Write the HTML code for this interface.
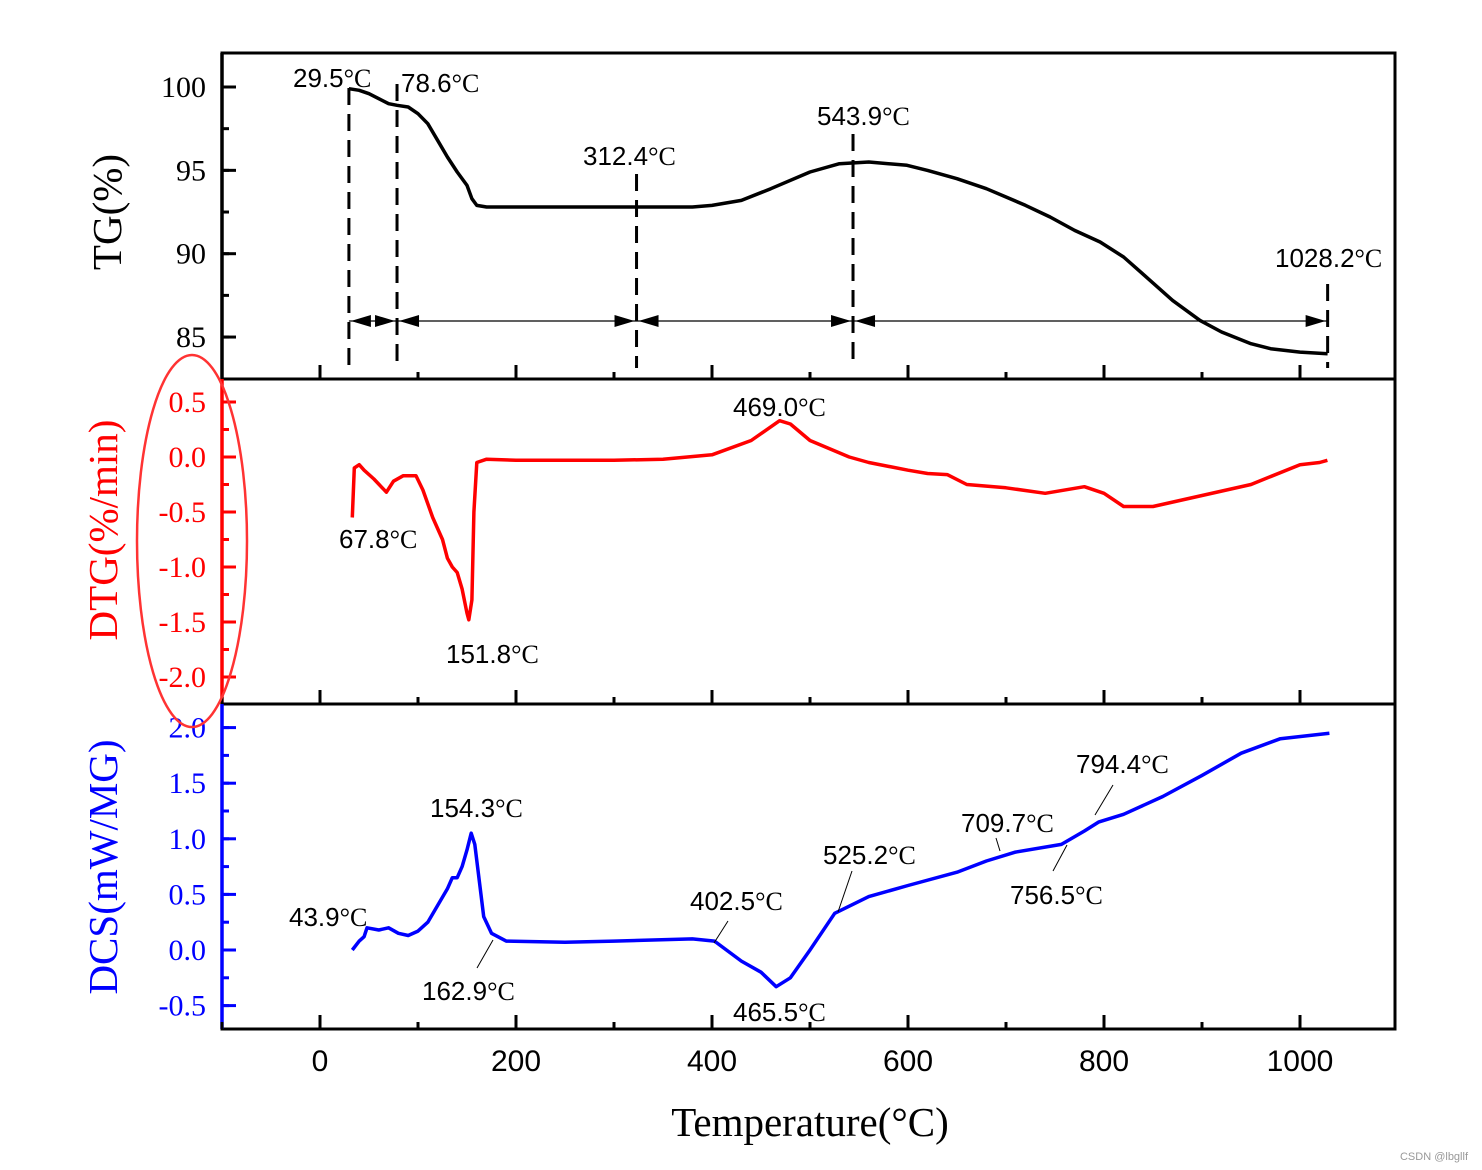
<!DOCTYPE html>
<html><head><meta charset="utf-8"><style>
html,body{margin:0;padding:0;background:#fff;}
svg{display:block;}
.sans{font-family:"Liberation Sans",sans-serif;}
.serif{font-family:"Liberation Serif",serif;}
</style></head><body>
<svg id="chart" width="1482" height="1170" viewBox="0 0 1482 1170" xmlns="http://www.w3.org/2000/svg"></svg>
<script>
// ---- data ----
const tgT   = [29.5,40,50,60,70,78.6,90,100,110,120,130,140,150,155,160,170,200,250,300,350,380,400,430,460,500,530,560,599,620,650,680,700,720,745,770,796,820,847,870,898,920,950,970,1000,1028.2];
const tgV   = [99.9,99.8,99.6,99.3,99.0,98.9,98.8,98.4,97.8,96.8,95.8,94.9,94.1,93.3,92.9,92.8,92.8,92.8,92.8,92.8,92.8,92.9,93.2,93.9,94.9,95.4,95.5,95.3,95.0,94.5,93.9,93.4,92.9,92.2,91.4,90.7,89.8,88.4,87.2,86.0,85.3,84.6,84.3,84.1,84.0];
const dtgT  = [33,35,40,45,55,67.8,75,85,98,105,115,125,130,135,140,145,150,151.8,155,157,160,170,200,250,300,350,400,440,469,480,500,540,560,600,620,640,660,700,740,780,800,820,850,900,950,1000,1020,1028];
const dtgV  = [-0.55,-0.1,-0.07,-0.12,-0.2,-0.32,-0.22,-0.17,-0.17,-0.3,-0.55,-0.75,-0.92,-1.0,-1.05,-1.2,-1.42,-1.48,-1.3,-0.5,-0.05,-0.02,-0.03,-0.03,-0.03,-0.02,0.02,0.15,0.33,0.3,0.15,0.0,-0.05,-0.12,-0.15,-0.16,-0.25,-0.28,-0.33,-0.27,-0.33,-0.45,-0.45,-0.35,-0.25,-0.07,-0.05,-0.03];
const dscT  = [33,40,45,48,60,70,80,90,100,110,120,130,135,140,145,150,154.3,158,162.9,167,175,190,250,300,380,402.5,430,450,465.5,480,500,525.2,560,600,650,680,709.7,756.5,780,794.4,820,860,900,940,980,1030];
const dscV  = [0.0,0.08,0.12,0.2,0.18,0.2,0.15,0.13,0.17,0.25,0.4,0.55,0.65,0.65,0.75,0.9,1.05,0.95,0.6,0.3,0.15,0.08,0.07,0.08,0.1,0.08,-0.1,-0.2,-0.33,-0.25,0.0,0.33,0.48,0.58,0.7,0.8,0.88,0.95,1.07,1.15,1.22,1.38,1.57,1.77,1.9,1.95];
const xTicks = [0,200,400,600,800,1000];
const tgTicks = [85,90,95,100];
const dtgTicks = [0.5,0.0,-0.5,-1.0,-1.5,-2.0];
const dscTicks = [2.0,1.5,1.0,0.5,0.0,-0.5];
const tgMarks = [29.5,78.6,323,543.9,1028.2];

// ---- scales ----
const L=222,R=1395;
const X=t=>320+0.98*t;
const Ytg=v=>87+(100-v)*16.67;
const Ydtg=v=>457-v*110;
const Ydsc=v=>950-v*111.2;
const P=[{top:53,bot:379},{top:379,bot:704},{top:704,bot:1029}];

const svg=document.getElementById('chart');
const NS='http://www.w3.org/2000/svg';
function mk(tag,attrs,parent){const e=document.createElementNS(NS,tag);for(const k in attrs)e.setAttribute(k,attrs[k]);(parent||svg).appendChild(e);return e;}
function txt(x,y,s,attrs){const e=mk('text',Object.assign({x:x,y:y},attrs));e.textContent=s;return e;}
function line(x1,y1,x2,y2,st,w,extra){return mk('line',Object.assign({x1,y1,x2,y2,stroke:st,'stroke-width':w},extra||{}));}

function series(T,V,Y,color,name){
  let d='';T.forEach((t,i)=>{d+=(i?'L':'M')+X(t).toFixed(1)+','+Y(V[i]).toFixed(1);});
  const p=mk('path',{d:d,fill:'none',stroke:color,'stroke-width':3.5,'stroke-linejoin':'round'});
  
  
}
series(tgT,tgV,Ytg,'#000','tg-curve');
series(dtgT,dtgV,Ydtg,'#f00','dtg-curve');
series(dscT,dscV,Ydsc,'#00f','dsc-curve');

const colors=['#000','#f00','#00f'];
P.forEach((p,i)=>{
  const r=mk('rect',{x:L,y:p.top,width:R-L,height:p.bot-p.top,fill:'none',stroke:'#000','stroke-width':3});
  
  
  line(L,p.top,L,p.bot,colors[i],3.5);
  for(let t=-100;t<=1090;t+=100){
    const major=(t%200===0);
    line(X(t),p.bot,X(t),p.bot-(major?14:7),'#000',3);
  }
});
function yAxis(ticks,Y,color,p,step,name){
  ticks.forEach(v=>{
    const y=Y(v);
    line(L,y,L+14,y,color,3);
    const t=txt(206,y+10,v.toFixed(name==='tg'?0:1),{class:'serif','font-size':30,fill:color,'text-anchor':'end'});
    
    
  });
  const lo=Math.min(...ticks)-step, hi=Math.max(...ticks)+step;
  for(let v=lo;v<=hi+1e-9;v+=step){const y=Y(v);if(y>p.top+3&&y<p.bot-3)line(L,y,L+7,y,color,3);}
}
yAxis(tgTicks,Ytg,'#000',P[0],2.5,'tg');
yAxis(dtgTicks,Ydtg,'#f00',P[1],0.25,'dtg');
yAxis(dscTicks,Ydsc,'#00f',P[2],0.25,'dsc');

xTicks.forEach(t=>{
  const e=txt(X(t),1071,String(t),{class:'sans','font-size':30,'text-anchor':'middle',fill:'#000'});
  
  
});

function vtitle(x,y,s,color,name){
  const e=txt(x,y,s,{class:'serif','font-size':41,fill:color,'text-anchor':'middle',transform:'rotate(-90 '+x+' '+y+')'});
  
  
}
vtitle(121,212,'TG(%)','#000','tg-axis-title');
vtitle(117,530,'DTG(%/min)','#f00','dtg-axis-title');
vtitle(117,867,'DCS(mW/MG)','#00f','dsc-axis-title');
const xt=txt(810,1136,'Temperature(°C)',{class:'serif','font-size':41,'text-anchor':'middle',fill:'#000'});



const markTop=[88,84,174,134,284];
tgMarks.forEach((t,i)=>{
  line(X(t),markTop[i],X(t),368,'#000',3,{'stroke-dasharray':'17,9'});
});
line(X(tgMarks[0]),321,X(tgMarks[4]),321,'#000',1.2);
function arrowHead(x,dir){
  mk('polygon',{points:`${x},321 ${x-dir*20},315 ${x-dir*20},327`,fill:'#000'});
}
for(let i=0;i<tgMarks.length-1;i++){
  arrowHead(X(tgMarks[i])+2,-1);
  arrowHead(X(tgMarks[i+1])-2,1);
}
function ann(x,y,num,name){
  const e=mk('text',{x:x,y:y,'font-size':26,fill:'#000'});
  
  
  const a=document.createElementNS(NS,'tspan');a.setAttribute('font-family','Liberation Sans, sans-serif');a.textContent=num;e.appendChild(a);
  const b=document.createElementNS(NS,'tspan');b.setAttribute('font-family','Liberation Serif, serif');b.textContent='°C';e.appendChild(b);
}
ann(293,87,'29.5','ann-29-5');
ann(401,92,'78.6','ann-78-6');
ann(583,165,'312.4','ann-312-4');
ann(817,125,'543.9','ann-543-9');
ann(1275,267,'1028.2','ann-1028-2');
ann(339,548,'67.8','ann-67-8');
ann(446,663,'151.8','ann-151-8');
ann(733,416,'469.0','ann-469-0');
ann(289,926,'43.9','ann-43-9');
ann(430,817,'154.3','ann-154-3');
ann(422,1000,'162.9','ann-162-9');
ann(690,910,'402.5','ann-402-5');
ann(733,1021,'465.5','ann-465-5');
ann(823,864,'525.2','ann-525-2');
ann(961,832,'709.7','ann-709-7');
ann(1076,773,'794.4','ann-794-4');
ann(1010,904,'756.5','ann-756-5');
[[477,968,493,940],[714,943,728,921],[838,912,852,871],[1000,851,996,838],[1053,871,1067,845],[1095,815,1113,785]].forEach(l=>line(l[0],l[1],l[2],l[3],'#000',1));

const el=mk('ellipse',{cx:192,cy:541,rx:55,ry:186,fill:'none',stroke:'#f33','stroke-width':2.5});



const wm=txt(1468,1160,'CSDN @lbgllf',{class:'sans','font-size':11,fill:'#999','text-anchor':'end'});


</script>
</body></html>
